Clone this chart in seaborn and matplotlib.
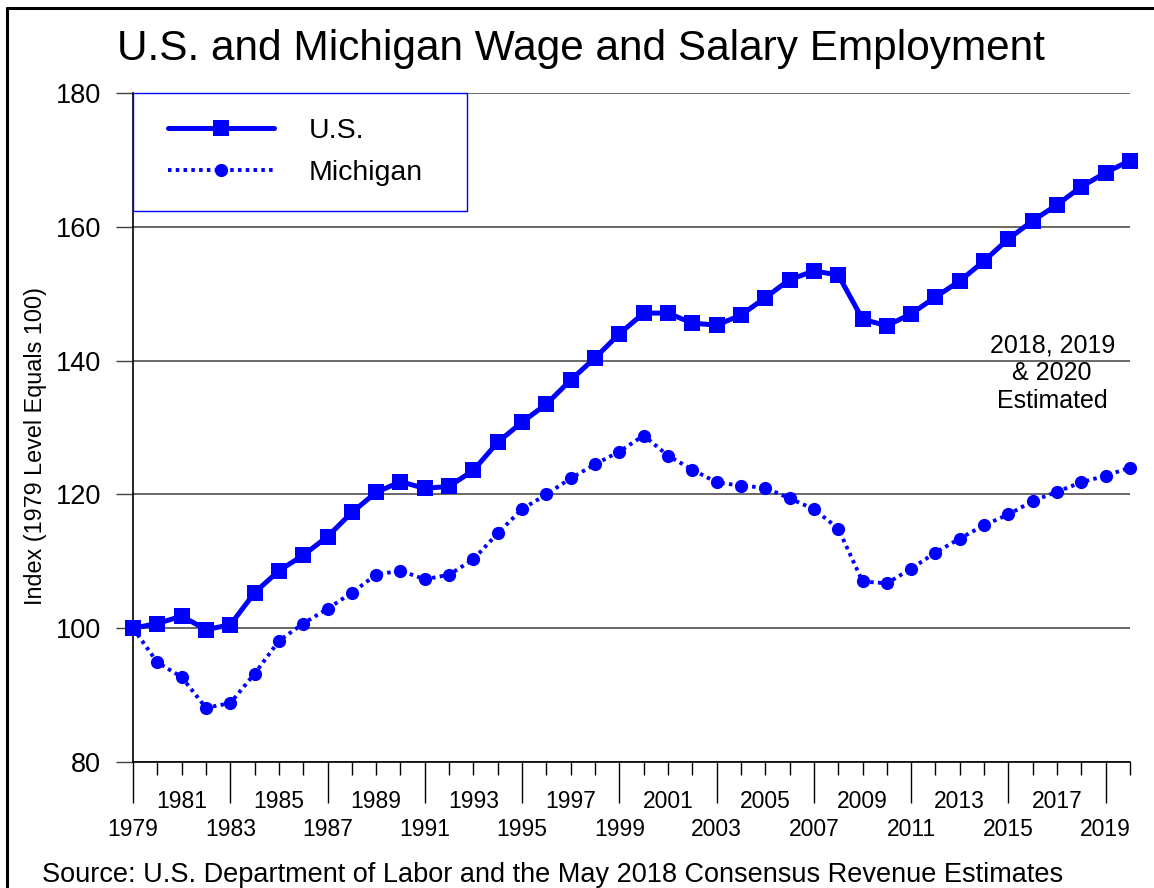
import numpy as np
import pandas as pd
import matplotlib
matplotlib.use("Agg")
import matplotlib.pyplot as plt
import seaborn as sns
from matplotlib.lines import Line2D
from matplotlib.legend_handler import HandlerLine2D

years = list(range(1979, 2021))
us = [100.0, 100.7, 101.8, 99.8, 100.5, 105.3, 108.6, 110.9, 113.7, 117.3,
      120.3, 121.9, 120.9, 121.2, 123.6, 127.8, 130.8, 133.5, 137.1, 140.4,
      144.0, 147.1, 147.1, 145.6, 145.3, 146.8, 149.4, 152.1, 153.4, 152.8,
      146.2, 145.2, 147.0, 149.5, 151.9, 154.9, 158.2, 160.9, 163.3, 166.0,
      168.1, 169.9]
michigan = [100.0, 94.9, 92.7, 88.1, 88.8, 93.2, 98.1, 100.7, 102.9, 105.3,
            108.0, 108.6, 107.3, 108.0, 110.3, 114.2, 117.8, 120.0, 122.4, 124.5,
            126.4, 128.8, 125.8, 123.7, 121.8, 121.3, 121.0, 119.4, 117.8, 114.9,
            107.0, 106.7, 108.9, 111.3, 113.4, 115.4, 117.0, 119.0, 120.4, 121.8,
            122.8, 124.0]
bottom_row = list(range(1979, 2020, 4))
top_row = list(range(1981, 2020, 4))

df = pd.DataFrame({"year": years, "U.S.": us, "Michigan": michigan})

sns.set_style("white")
plt.rcParams["font.family"] = ["Liberation Sans", "DejaVu Sans"]
plt.rcParams["text.color"] = "black"
plt.rcParams["axes.labelcolor"] = "black"
plt.rcParams["xtick.color"] = "black"
plt.rcParams["ytick.color"] = "black"

fig = plt.figure(figsize=(11.54, 8.88), dpi=100)
ax = fig.add_axes([133 / 1154, 1 - 762 / 888, (1130 - 133) / 1154, (762 - 93) / 888])

blue = "#0000FF"
sns.lineplot(data=df, x="year", y="U.S.", ax=ax, color=blue, lw=3.6,
             marker="s", markersize=11, markeredgewidth=0, label="U.S.",
             errorbar=None, clip_on=False, zorder=4)
sns.lineplot(data=df, x="year", y="Michigan", ax=ax, color=blue, lw=2.8,
             linestyle=(0, (0.9, 1.1)), marker="o", markersize=9.5,
             markeredgewidth=0, label="Michigan", errorbar=None,
             clip_on=False, zorder=3)

ax.set_xlim(1979, 2020)
ax.set_ylim(80, 180)
ax.set_yticks([80, 100, 120, 140, 160, 180])
ax.yaxis.grid(True, color="#404040", lw=1.1)
ax.xaxis.grid(False)
ax.set_axisbelow(True)

# long ticks with bottom-row labels, short ticks with top-row labels
ax.set_xticks(bottom_row)
ax.set_xticklabels([str(y) for y in bottom_row])
minor = [y for y in years if y not in bottom_row]
ax.set_xticks(minor, minor=True)
ax.set_xticklabels([str(y) if y in top_row else "" for y in minor], minor=True)
ax.tick_params(axis="x", which="major", direction="out", length=29.5, width=1,
               color="black", labelsize=16.5, pad=11, bottom=True)
ax.tick_params(axis="x", which="minor", direction="out", length=9.5, width=1,
               color="black", labelsize=16.5, pad=11, bottom=True)
ax.tick_params(axis="y", direction="out", length=12.5, width=1,
               color="#404040", labelsize=19.5, pad=10.5, left=True)

for s in ["top", "right"]:
    ax.spines[s].set_visible(False)
for s in ["left", "bottom"]:
    ax.spines[s].set_color("black")
    ax.spines[s].set_linewidth(1.2)

ax.set_xlabel("")
ax.set_ylabel("Index (1979 Level Equals 100)", fontsize=16.8)
ax.yaxis.set_label_coords(-0.0863, 0.473)

leg = ax.legend(loc="upper left", bbox_to_anchor=(0, 1, 334 / 997, 0),
                mode="expand", borderaxespad=0, fontsize=20.5,
                handlelength=4.07, handletextpad=1.23, labelspacing=0.56,
                borderpad=0.88, fancybox=False, frameon=True,
                handler_map={Line2D: HandlerLine2D(xpad=0.35)})
leg.get_frame().set_edgecolor(blue)
leg.get_frame().set_linewidth(1.0)
leg.get_frame().set_facecolor("white")
leg.get_frame().set_alpha(1)
leg.set_zorder(5)

ax.text(2016.8, 138.1, "2018, 2019\n& 2020\nEstimated", ha="center",
        va="center", fontsize=18, linespacing=1.2)

fig.text(0.503, 1 - 60 / 888, "U.S. and Michigan Wage and Salary Employment",
         ha="center", va="baseline", fontsize=30.5)
fig.text(42 / 1154, 1 - 882 / 888,
         "Source: U.S. Department of Labor and the May 2018 Consensus Revenue Estimates",
         ha="left", va="baseline", fontsize=19.5)

# figure frame (left and top edges visible)
fig.add_artist(Line2D([7 / 1154, 7 / 1154], [-0.01, 1 - 8 / 888],
                      transform=fig.transFigure, color="black", lw=2.2))
fig.add_artist(Line2D([7 / 1154, 1.01], [1 - 8 / 888, 1 - 8 / 888],
                      transform=fig.transFigure, color="black", lw=2.2))

fig.savefig("out.png", dpi=100)
